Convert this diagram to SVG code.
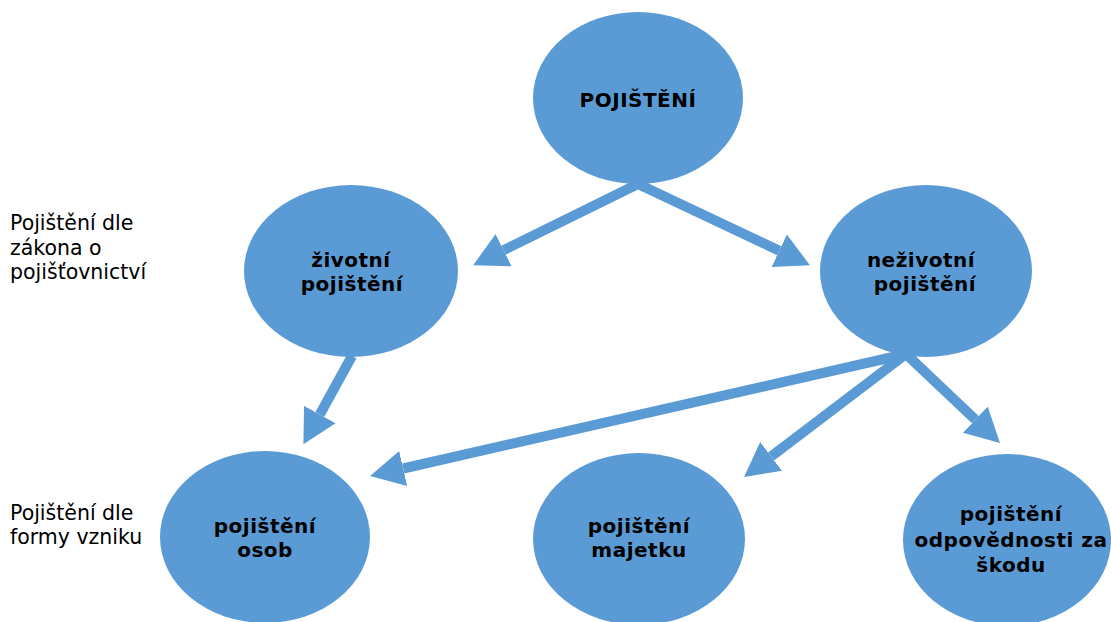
<svg xmlns="http://www.w3.org/2000/svg" width="1111" height="622" viewBox="0 0 1111 622">
  <style>
    .node { fill: #5B9BD5; }
    .lbl { font-family: "DejaVu Sans", Verdana, sans-serif; font-weight: bold; font-size: 20px; letter-spacing: 0.5px; fill: #000; text-anchor: middle; }
    .side { font-family: "DejaVu Sans", Verdana, sans-serif; font-size: 20.5px; fill: #000; }
    .conn { stroke: #5B9BD5; stroke-width: 10; fill: none; marker-end: url(#head); }
  </style>
  <defs>
    <marker id="head" markerUnits="userSpaceOnUse" markerWidth="40" markerHeight="40" viewBox="0 -20 40 40" refX="0" refY="0" orient="auto">
      <path d="M0,-18 L34,0 L0,18 z" fill="#5B9BD5"/>
    </marker>
  </defs>
  <rect width="1111" height="622" fill="#fff"/>

  <!-- side captions -->
  <text class="side" x="10" y="230">Pojištění dle</text>
  <text class="side" x="10" y="255">zákona o</text>
  <text class="side" x="10" y="279">pojišťovnictví</text>
  <text class="side" x="10" y="520">Pojištění dle</text>
  <text class="side" x="10" y="544">formy vzniku</text>

  <g id="connectors">
    <line class="conn" x1="638" y1="184" x2="503.6" y2="250.2"/>
    <line class="conn" x1="638" y1="184" x2="779.2" y2="250.7"/>
    <line class="conn" x1="352" y1="356" x2="319.8" y2="414.5"/>
    <line class="conn" x1="906" y1="354" x2="403.2" y2="468.5"/>
    <line class="conn" x1="906" y1="354" x2="771.1" y2="456.4"/>
    <line class="conn" x1="906" y1="354" x2="975.3" y2="419.6"/>
  </g>

  <g id="n-pojisteni">
    <ellipse class="node" cx="638" cy="98" rx="105" ry="86"/>
    <text class="lbl" x="638" y="107">POJIŠTĚNÍ</text>
  </g>
  <g id="n-zivotni">
    <ellipse class="node" cx="351" cy="271" rx="107" ry="86"/>
    <text class="lbl" x="351" y="267">životní</text>
    <text class="lbl" x="352" y="291">pojištění</text>
  </g>
  <g id="n-nezivotni">
    <ellipse class="node" cx="926" cy="271" rx="106" ry="86"/>
    <text class="lbl" x="921" y="267">neživotní</text>
    <text class="lbl" x="925" y="291">pojištění</text>
  </g>
  <g id="n-osob">
    <ellipse class="node" cx="265" cy="537" rx="105" ry="86"/>
    <text class="lbl" x="265" y="533">pojištění</text>
    <text class="lbl" x="265" y="557">osob</text>
  </g>
  <g id="n-majetku">
    <ellipse class="node" cx="639" cy="539" rx="106" ry="86"/>
    <text class="lbl" x="639" y="533">pojištění</text>
    <text class="lbl" x="639" y="557">majetku</text>
  </g>
  <g id="n-odpovednosti">
    <ellipse class="node" cx="1007" cy="540" rx="104" ry="86"/>
    <text class="lbl" x="1011" y="521">pojištění</text>
    <text class="lbl" x="1011" y="547">odpovědnosti za</text>
    <text class="lbl" x="1011" y="572">škodu</text>
  </g>
</svg>
